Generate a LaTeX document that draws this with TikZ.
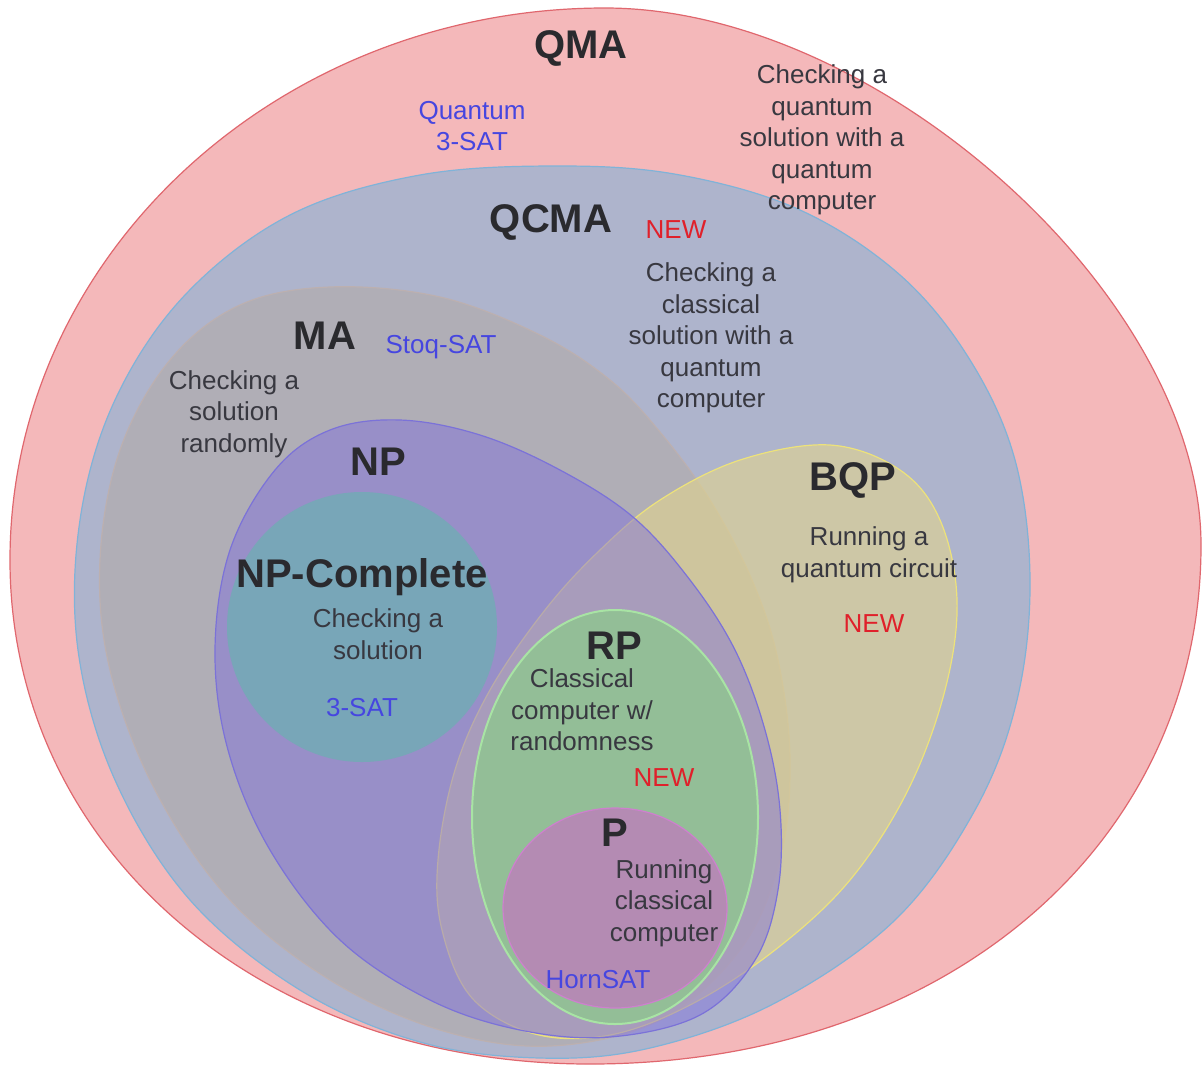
\documentclass[tikz,border=0pt]{standalone}
\usepackage{fontspec}
\setmainfont{Liberation Sans}
\definecolor{qmaF}{HTML}{F4B8BA}
\definecolor{qmaD}{HTML}{E0676E}
\definecolor{qcmaF}{HTML}{AEB4CC}
\definecolor{qcmaD}{HTML}{80B3D8}
\definecolor{maF}{HTML}{B0AEB6}
\definecolor{maD}{HTML}{BCB0B0}
\definecolor{bqpF}{HTML}{E2D58D}
\definecolor{bqpD}{HTML}{EDE27A}
\definecolor{npF}{HTML}{7F6EDD}
\definecolor{npD}{HTML}{7B72D8}
\definecolor{npcF}{HTML}{78A6B8}
\definecolor{rpF}{HTML}{93BE97}
\definecolor{rpD}{HTML}{A8E4A4}
\definecolor{pF}{HTML}{B48BB3}
\definecolor{pD}{HTML}{CE80CE}
\definecolor{ttlC}{HTML}{2A2A2E}
\definecolor{txtC}{HTML}{383840}
\definecolor{bluC}{HTML}{4646E0}
\definecolor{redC}{HTML}{E0202A}
\tikzset{
  setbox/.style={line width=0.6pt},
  ttl/.style={font=\fontsize{20}{24}\selectfont\bfseries, text=ttlC, inner sep=0pt},
  txt/.style={font=\fontsize{13}{15.75}\selectfont, text=txtC, align=center, inner sep=0pt},
  blu/.style={font=\fontsize{13}{15.75}\selectfont, text=bluC, align=center, inner sep=0pt},
  newlbl/.style={font=\fontsize{13}{15.75}\selectfont, text=redC, inner sep=0pt}
}
\def\qcmapts{(560,166) (680,175) (800,210) (900,275) (970,360) (1015,460) (1030,580) (1017,700) (975,810) (895,920) (775,1003) (650,1048) (540,1058) (420,1042) (300,990) (190,900) (115,780) (78,650) (80,520) (115,400) (185,295) (290,215) (420,175)}
\def\mapts{(330,287) (440,297) (540,335) (610,380) (660,432) (710,500) (752,580) (778,660) (790,760) (780,860) (740,950) (660,1020) (550,1046) (440,1030) (330,980) (230,900) (155,790) (110,670) (100,560) (120,450) (170,360) (240,305)}
\def\bqppts{(830,445) (900,470) (940,520) (957,600) (945,690) (908,790) (850,880) (775,950) (690,1005) (610,1035) (535,1034) (472,998) (442,930) (438,860) (455,770) (490,690) (545,610) (600,550) (660,500) (740,460)}
\def\nppts{(400,420) (480,435) (560,470) (633,517) (690,580) (735,650) (765,730) (780,810) (778,890) (755,960) (700,1015) (610,1037) (520,1030) (430,1000) (340,940) (270,850) (228,750) (215,650) (230,550) (275,470) (330,430)}
\begin{document}
\begin{tikzpicture}[x=0.5pt,y=-0.5pt]
\useasboundingbox (0,0) rectangle (1202,1066);
\fill[white] (0,0) rectangle (1202,1066);
% QMA
\filldraw[setbox, fill=qmaF, draw=qmaD] (605,8) .. controls (879,8) and (1201,298) .. (1201,545)
  .. controls (1201,846) and (944,1064) .. (590,1064)
  .. controls (259,1064) and (10,847) .. (10,560)
  .. controls (10,256) and (278,8) .. (605,8) -- cycle;
% QCMA
\filldraw[setbox, fill=qcmaF, draw=qcmaD] plot[smooth cycle, tension=0.6] coordinates {\qcmapts};
% MA
\filldraw[setbox, fill=maF, draw=maD] plot[smooth cycle, tension=0.6] coordinates {\mapts};
% BQP
\fill[bqpF, fill opacity=0.6] plot[smooth cycle, tension=0.6] coordinates {\bqppts};
\draw[setbox, draw=bqpD] plot[smooth cycle, tension=0.6] coordinates {\bqppts};
% NP
\fill[npF, fill opacity=0.47] plot[smooth cycle, tension=0.6] coordinates {\nppts};
\draw[setbox, draw=npD] plot[smooth cycle, tension=0.6] coordinates {\nppts};
% NP-Complete
\fill[npcF] (362,627) circle[radius=135];
% RP
\filldraw[line width=1pt, fill=rpF, draw=rpD] (615,817) ellipse[x radius=143, y radius=207];
% P
\filldraw[setbox, fill=pF, draw=pD] (615,908) ellipse[x radius=112, y radius=100];

% labels
\node[ttl] (tqma) at (581,48) {QMA};
\node[blu] (q3sat) at (472,126) {Quantum\\3-SAT};
\node[txt] (dqma) at (822,140) {Checking a\\quantum\\solution with a\\quantum\\computer};
\node[ttl] (tqcma) at (551,222) {QCMA};
\node[newlbl] (n1) at (676,230) {NEW};
\node[txt] (dqcma) at (711,338) {Checking a\\classical\\solution with a\\quantum\\computer};
\node[ttl] (tma) at (325,336) {MA};
\node[blu] (stoq) at (441,347) {Stoq-SAT};
\node[txt] (dma) at (234,414) {Checking a\\solution\\randomly};
\node[ttl] (tnp) at (378,462) {NP};
\node[ttl] (tbqp) at (853,480) {BQP};
\node[txt] (dbqp) at (869,555) {Running a\\quantum circuit};
\node[newlbl] (n2) at (874,624) {NEW};
\node[ttl] (tnpc) at (362,577) {NP-Complete};
\node[txt] (dnpc) at (378,634) {Checking a\\solution};
\node[blu] (sat3) at (362,708) {3-SAT};
\node[ttl] (trp) at (614,646) {RP};
\node[txt] (drp) at (582,710) {Classical\\computer w/\\randomness};
\node[newlbl] (n3) at (664,778) {NEW};
\node[ttl] (tp) at (615,833) {P};
\node[txt] (dp) at (664,903) {Running\\classical\\computer};
\node[blu] (horn) at (598,980) {HornSAT};
\end{tikzpicture}
\end{document}
